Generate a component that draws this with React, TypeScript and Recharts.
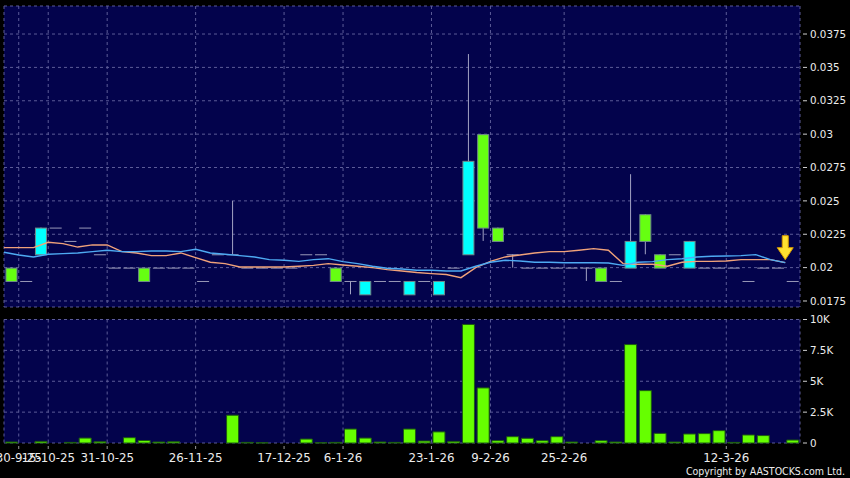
import { ComposedChart, Bar, Line, XAxis, YAxis, CartesianGrid, ReferenceDot } from 'recharts';

// one slot per trading day shown on the chart
const openPx = [
  0.02, 0.019, 0.021, 0.023, 0.022, 0.023, 0.021, 0.02, 0.02, 0.02,
  0.02, 0.02, 0.02, 0.019, 0.021, 0.021, 0.02, 0.02, 0.02, 0.02,
  0.021, 0.021, 0.02, 0.019, 0.018, 0.019, 0.019, 0.018, 0.019, 0.018,
  0.02, 0.021, 0.03, 0.023, 0.021, 0.02, 0.02, 0.02, 0.02, 0.02,
  0.02, 0.019, 0.02, 0.024, 0.021, 0.021, 0.02, 0.02, 0.02, 0.02,
  0.019, 0.02, 0.02, 0.019,
];
const closePx = [
  0.019, 0.019, 0.023, 0.023, 0.022, 0.023, 0.021, 0.02, 0.02, 0.019,
  0.02, 0.02, 0.02, 0.019, 0.021, 0.021, 0.02, 0.02, 0.02, 0.02,
  0.021, 0.021, 0.019, 0.019, 0.019, 0.019, 0.019, 0.019, 0.019, 0.019,
  0.02, 0.028, 0.023, 0.022, 0.021, 0.02, 0.02, 0.02, 0.02, 0.02,
  0.019, 0.019, 0.022, 0.022, 0.02, 0.021, 0.022, 0.02, 0.02, 0.02,
  0.019, 0.02, 0.02, 0.019,
];
const highPx = [
  0.02, 0.019, 0.023, 0.023, 0.022, 0.023, 0.021, 0.02, 0.02, 0.02,
  0.02, 0.02, 0.02, 0.019, 0.021, 0.025, 0.02, 0.02, 0.02, 0.02,
  0.021, 0.021, 0.02, 0.019, 0.019, 0.019, 0.019, 0.019, 0.019, 0.019,
  0.02, 0.036, 0.03, 0.023, 0.021, 0.02, 0.02, 0.02, 0.02, 0.02,
  0.02, 0.019, 0.027, 0.024, 0.021, 0.021, 0.022, 0.02, 0.02, 0.02,
  0.019, 0.02, 0.02, 0.019,
];
const lowPx = [
  0.019, 0.019, 0.021, 0.023, 0.022, 0.023, 0.021, 0.02, 0.02, 0.019,
  0.02, 0.02, 0.02, 0.019, 0.021, 0.021, 0.02, 0.02, 0.02, 0.02,
  0.021, 0.021, 0.019, 0.018, 0.018, 0.019, 0.019, 0.018, 0.019, 0.018,
  0.02, 0.021, 0.022, 0.022, 0.02, 0.02, 0.02, 0.02, 0.02, 0.019,
  0.019, 0.019, 0.02, 0.021, 0.02, 0.021, 0.02, 0.02, 0.02, 0.02,
  0.019, 0.02, 0.02, 0.019,
];
const volume = [
  80, 0, 130, 0, 50, 400, 100, 0, 430, 200,
  80, 100, 0, 0, 0, 2250, 50, 20, 0, 0,
  320, 20, 50, 1130, 400, 80, 50, 1130, 160, 900,
  130, 9600, 4460, 190, 510, 380, 190, 510, 80, 0,
  190, 80, 7970, 4240, 780, 80, 730, 760, 1000, 50,
  650, 600, 0, 240,
];
const maOrange = [
  0.0215, 0.0215, 0.0215, 0.0219, 0.0218, 0.02154, 0.0217, 0.0217, 0.0212, 0.0211,
  0.0209, 0.0209, 0.0211, 0.02075, 0.0204, 0.0203, 0.02005, 0.02005, 0.02005, 0.02005,
  0.0201, 0.02017, 0.0203, 0.0202, 0.0201, 0.02, 0.01985, 0.01975, 0.01963, 0.01955,
  0.01948, 0.01925, 0.02, 0.02047, 0.0208, 0.02095, 0.0211, 0.0212, 0.0212, 0.0213,
  0.02142, 0.0213, 0.0203, 0.02025, 0.02025, 0.0201, 0.0204, 0.02047, 0.02047, 0.0205,
  0.0206, 0.0206, 0.0206, 0.02037,
];
const maBlue = [
  0.02115, 0.02095, 0.0208, 0.021, 0.02105, 0.0211, 0.0212, 0.0213, 0.0212, 0.0212,
  0.02125, 0.02125, 0.0212, 0.02137, 0.0211, 0.021, 0.0209, 0.0208, 0.0206, 0.02055,
  0.02047, 0.0206, 0.02067, 0.02045, 0.0203, 0.0201, 0.01995, 0.0199, 0.0198, 0.0198,
  0.01975, 0.01975, 0.0201, 0.0204, 0.02055, 0.0205, 0.0204, 0.0204, 0.02037, 0.02037,
  0.02037, 0.02035, 0.02017, 0.0204, 0.02045, 0.0206, 0.02067, 0.0208, 0.02085, 0.02087,
  0.0209, 0.02097, 0.0206, 0.02037,
];

const dateTickSlots = [1, 3, 7, 13, 19, 23, 29, 33, 38, 49];
const dateTickLabels = ['30-9-25', '15-10-25', '31-10-25', '26-11-25', '17-12-25', '6-1-26', '23-1-26', '9-2-26', '25-2-26', '12-3-26'];
const priceTicks = [0.0175, 0.02, 0.0225, 0.025, 0.0275, 0.03, 0.0325, 0.035, 0.0375];
const priceTickLabels = ['0.0175', '0.02', '0.0225', '0.025', '0.0275', '0.03', '0.0325', '0.035', '0.0375'];
const volTicks = [0, 2500, 5000, 7500, 10000];
const volTickLabels = ['0', '2.5K', '5K', '7.5K', '10K'];

const data = openPx.map((o, i) => ({
  i,
  o,
  c: closePx[i],
  h: highPx[i],
  l: lowPx[i],
  range: [lowPx[i], highPx[i]],
  vol: volume[i],
  ma1: maOrange[i],
  ma2: maBlue[i],
}));

const PANEL = '#03034c';
const GRID = '#5c5c98';
const TEXT = '#ececec';
const FONT = '"DejaVu Sans", sans-serif';

function Candle(props: any) {
  const { x, y, width, height, payload } = props;
  const { o, h, l, c } = payload;
  const top = Math.min(y, y + height);
  const bot = Math.max(y, y + height);
  const span = h - l;
  const py = (v: number) => (span > 0 ? top + ((h - v) / span) * (bot - top) : top);
  const cx = x + width / 2;
  if (o === c) {
    return (
      <g>
        {span > 0 && <line x1={cx} x2={cx} y1={top} y2={bot} stroke="#a4a4c4" />}
        <line x1={x} x2={x + width} y1={py(c) + 0.5} y2={py(c) + 0.5} stroke="#9a9ab8" />
      </g>
    );
  }
  const up = c > o;
  const bTop = py(Math.max(o, c));
  const bBot = py(Math.min(o, c));
  return (
    <g>
      {span > 0 && <line x1={cx} x2={cx} y1={top} y2={bot} stroke="#a4a4c4" />}
      <rect x={x + 0.5} y={bTop + 0.5} width={width - 1} height={bBot - bTop} fill={up ? '#00ffff' : '#66ff11'} stroke="#6f8a8a" />
    </g>
  );
}

function PriceTick(props: any) {
  const { x, y, payload } = props;
  const k = priceTicks.indexOf(payload.value);
  return (
    <g>
      <line x1={x + 3} x2={x + 7} y1={y} y2={y} stroke="#cfcfcf" />
      <text x={x + 10} y={y} dy={3.7} fill={TEXT} fontSize={10.3} fontFamily={FONT}>
        {k >= 0 ? priceTickLabels[k] : payload.value}
      </text>
    </g>
  );
}

function VolTick(props: any) {
  const { x, y, payload } = props;
  const k = volTicks.indexOf(payload.value);
  return (
    <g>
      <line x1={x + 3} x2={x + 7} y1={y} y2={y} stroke="#cfcfcf" />
      <text x={x + 10} y={y} dy={3.7} fill={TEXT} fontSize={10.3} fontFamily={FONT}>
        {k >= 0 ? volTickLabels[k] : payload.value}
      </text>
    </g>
  );
}

function DateTick(props: any) {
  const { x, y, payload } = props;
  const k = dateTickSlots.indexOf(payload.value);
  return (
    <g>
      <line x1={x} x2={x} y1={y + 3} y2={y + 6} stroke="#9a9a9a" />
      <text x={x} y={y + 19} textAnchor="middle" fill={TEXT} fontSize={11.8} fontFamily={FONT}>
        {k >= 0 ? dateTickLabels[k] : ''}
      </text>
    </g>
  );
}

function DownArrow(props: any) {
  const { cx, cy } = props;
  const t = cy - 3;
  const pts = [
    [cx - 3, t - 24], [cx + 3, t - 24], [cx + 3, t - 12], [cx + 8, t - 12],
    [cx, t], [cx - 8, t - 12], [cx - 3, t - 12],
  ].map((p) => p.join(',')).join(' ');
  return <polygon points={pts} fill="#ffe030" stroke="#d89a00" strokeWidth={1} />;
}

export default function App() {
  return (
    <div style={{ position: 'absolute', left: 0, top: 0, width: 850, height: 478, background: '#000', overflow: 'hidden' }}>
      <div style={{ position: 'absolute', left: 0, top: 0 }}>
        <ComposedChart width={850} height={310} data={data} margin={{ top: 6, right: 0, bottom: 3, left: 4 }} barCategoryGap="10%">
          <CartesianGrid xAxisId="num" yAxisId="p" fill={PANEL} stroke={GRID} strokeDasharray="3 3" />
          <XAxis xAxisId="num" dataKey="i" type="number" domain={[0, 54]} ticks={dateTickSlots} height={0} hide />
          <XAxis xAxisId="cat" dataKey="i" type="category" height={0} hide />
          <YAxis
            yAxisId="p"
            orientation="right"
            width={50}
            domain={[0.01705, 0.0396]}
            ticks={priceTicks}
            tick={<PriceTick />}
            tickSize={0}
            tickMargin={0}
            axisLine={false}
            tickLine={false}
            allowDataOverflow
          />
          <Line xAxisId="num" yAxisId="p" dataKey="ma1" stroke="#f0a27a" strokeWidth={1.4} dot={false} isAnimationActive={false} />
          <Line xAxisId="num" yAxisId="p" dataKey="ma2" stroke="#4eaaf2" strokeWidth={1.4} dot={false} isAnimationActive={false} />
          <Bar xAxisId="cat" yAxisId="p" dataKey="range" shape={<Candle />} isAnimationActive={false} />
          <ReferenceDot xAxisId="num" yAxisId="p" x={53} y={maBlue[53]} shape={<DownArrow />} />
        </ComposedChart>
      </div>
      <div style={{ position: 'absolute', left: 0, top: 310 }}>
        <ComposedChart width={850} height={168} data={data} margin={{ top: 9.5, right: 0, bottom: 0, left: 4 }} barCategoryGap="10%">
          <CartesianGrid xAxisId="num" yAxisId="v" fill={PANEL} stroke={GRID} strokeDasharray="3 3" />
          <XAxis
            xAxisId="num"
            dataKey="i"
            type="number"
            domain={[0, 54]}
            ticks={dateTickSlots}
            tick={<DateTick />}
            tickSize={0}
            tickMargin={0}
            height={35}
            axisLine={false}
            tickLine={false}
            interval={0}
          />
          <XAxis xAxisId="cat" dataKey="i" type="category" height={0} hide />
          <YAxis
            yAxisId="v"
            orientation="right"
            width={50}
            domain={[0, 10000]}
            ticks={volTicks}
            tick={<VolTick />}
            tickSize={0}
            tickMargin={0}
            axisLine={false}
            tickLine={false}
          />
          <Bar xAxisId="cat" yAxisId="v" dataKey="vol" fill="#66ff00" stroke="#1d5a12" isAnimationActive={false} />
        </ComposedChart>
      </div>
      <div
        style={{
          position: 'absolute',
          right: 5,
          top: 465,
          color: TEXT,
          fontSize: 10.5,
          fontFamily: '"DejaVu Sans Condensed", "DejaVu Sans", sans-serif',
          lineHeight: '12px',
          whiteSpace: 'nowrap',
        }}
      >
        Copyright by AASTOCKS.com Ltd.
      </div>
    </div>
  );
}
